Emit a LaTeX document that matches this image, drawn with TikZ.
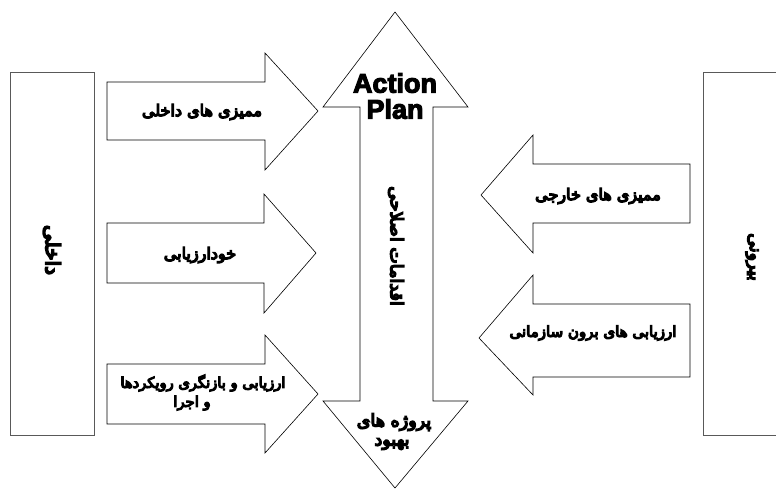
\documentclass[tikz,border=0pt]{standalone}
\usepackage{fontspec}
\setmainfont{Liberation Sans}
\newfontfamily\arabicfont[Script=Arabic, FakeBold=8]{DejaVu Sans}
\newfontfamily\headfont{Liberation Sans Bold}
\TeXXeTstate=1
\newcommand{\fa}[1]{{\arabicfont\beginR #1\endR}}
% stroke the glyph outlines as well as filling them, for a heavier face
\newcommand{\heavy}[1]{\special{pdf:literal direct 2 Tr 1.1 w}#1\special{pdf:literal direct 0 Tr}}
\begin{document}
\begin{tikzpicture}[x=1pt,y=-1pt,
  sidebox/.style={draw=black!65, line width=0.8pt},
  blockarrow/.style={draw=black, line width=0.6pt, fill=white, line join=miter},
  lbl/.style={font=\fontsize{16}{20}\selectfont, inner sep=0pt},
  vlbl/.style={inner sep=0pt, rotate=-90},
  title/.style={font=\fontsize{27}{26}\headfont, align=center, inner sep=0pt}]
\useasboundingbox (0,0) rectangle (776,490);

% outer side boxes
\draw[sidebox] (10,72) rectangle (94,435);
\draw[sidebox] (776,72) -- (703,72) -- (703,435) -- (776,435);
\node[vlbl, font=\fontsize{20}{22}\selectfont] (inner) at (52,250) {\fa{داخلی}};
\node[vlbl, font=\fontsize{17.5}{20}\selectfont] (outer) at (752,257) {\fa{بیرونی}};

% central double arrow
\draw[blockarrow] (395,12) -- (468,107) -- (433,107) -- (433,401) -- (468,401)
  -- (395,488) -- (323,401) -- (360,401) -- (360,107) -- (323,107) -- cycle;
\node[title] (plan) at (395,96) {\heavy{Action}\\\heavy{Plan}};
\node[vlbl, font=\fontsize{17.5}{20}\selectfont] (corr) at (396,246) {\fa{اقدامات اصلاحی}};
\node[lbl, font=\fontsize{17.5}{22}\selectfont] (proj) at (394,422) {\fa{پروژه های}};
\node[lbl, font=\fontsize{17.5}{22}\selectfont] (proj2) at (392,444) {\fa{بهبود}};

% arrows entering from the left
\draw[blockarrow] (107,82) -- (265,82) -- (265,53) -- (318,111) -- (265,170) -- (265,140) -- (107,140) -- cycle;
\node[lbl] (a1) at (202,112) {\fa{ممیزی های داخلی}};

\draw[blockarrow] (107,223) -- (264,223) -- (264,194) -- (316,253) -- (264,313) -- (264,283) -- (107,283) -- cycle;
\node[lbl] (a2) at (200,255) {\fa{خودارزیابی}};

\draw[blockarrow] (107,364) -- (265,364) -- (265,335) -- (318,394) -- (265,453) -- (265,424) -- (107,424) -- cycle;
\node[lbl, font=\fontsize{14.7}{20}\selectfont] (a3) at (203,383) {\fa{ارزیابی و بازنگری رویکردها}};
\node[lbl, font=\fontsize{14.7}{20}\selectfont] (a3b) at (192,403) {\fa{و اجرا}};

% arrows entering from the right
\draw[blockarrow] (690,164) -- (533,164) -- (533,135) -- (481,195) -- (533,253) -- (533,223) -- (690,223) -- cycle;
\node[lbl] (b1) at (598,196) {\fa{ممیزی های خارجی}};

\draw[blockarrow] (690,304) -- (533,304) -- (533,275) -- (479,338) -- (533,395) -- (533,377) -- (690,377) -- cycle;
\node[lbl, font=\fontsize{15}{18}\selectfont] (b2) at (593,333) {\fa{ارزیابی های برون سازمانی}};
\end{tikzpicture}
\end{document}
